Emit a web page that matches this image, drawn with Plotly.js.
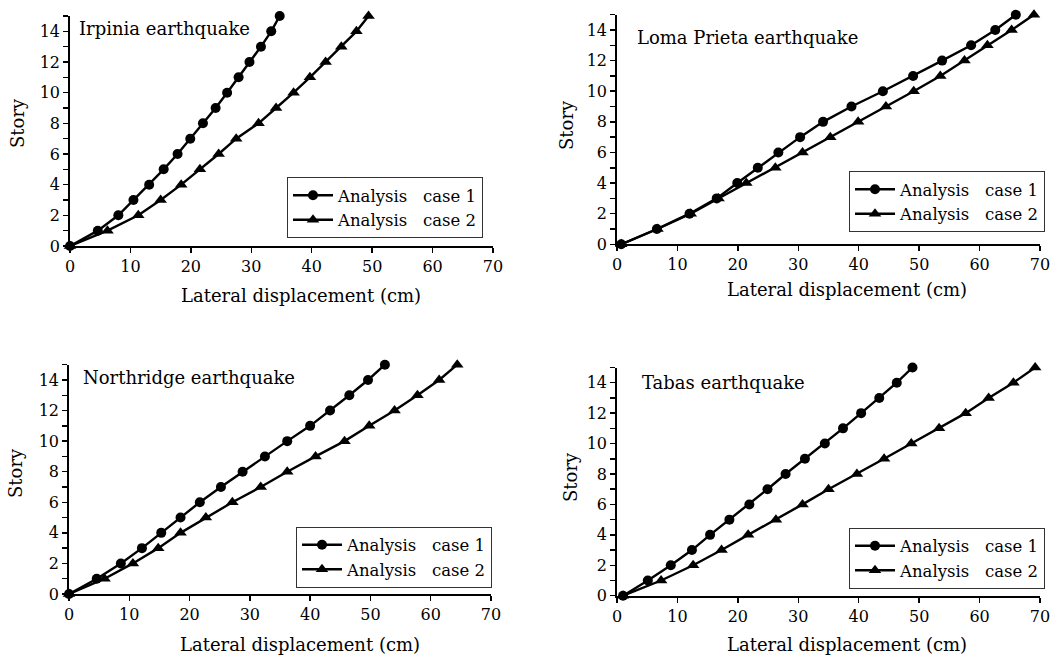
<!DOCTYPE html>
<html>
<head>
<meta charset="utf-8">
<script src="https://cdn.plot.ly/plotly-3.0.1.min.js"></script>
<style>
  html, body { margin: 0; padding: 0; background: #ffffff; }
  #chart { width: 1051px; height: 655px; }
</style>
</head>
<body>
<div id="chart"></div>
<script>
// Story levels (0 = ground)
const stories = [0, 1, 2, 3, 4, 5, 6, 7, 8, 9, 10, 11, 12, 13, 14, 15];

// Lateral displacement per story (cm)
const irpiniaCase1 = [0, 4.6, 8.0, 10.5, 13.1, 15.5, 17.8, 19.9, 22.0, 24.1, 26.0, 27.9, 29.7, 31.6, 33.3, 34.7];
const irpiniaCase2 = [0, 6.2, 11.3, 15.0, 18.4, 21.5, 24.6, 27.5, 31.2, 34.1, 37.0, 39.7, 42.3, 44.9, 47.4, 49.4];

const lomaPrietaCase1 = [0.7, 6.6, 12.0, 16.5, 19.9, 23.3, 26.7, 30.3, 34.1, 38.8, 44.0, 49.0, 53.8, 58.6, 62.6, 66.0];
const lomaPrietaCase2 = [0.7, 6.7, 12.2, 16.8, 21.4, 26.2, 30.7, 35.3, 39.9, 44.5, 49.1, 53.5, 57.5, 61.3, 65.3, 69.0];

const northridgeCase1 = [0, 4.6, 8.6, 12.1, 15.3, 18.5, 21.7, 25.2, 28.8, 32.5, 36.2, 40.0, 43.3, 46.5, 49.6, 52.4];
const northridgeCase2 = [0, 5.9, 10.6, 14.8, 18.5, 22.7, 27.1, 31.8, 36.2, 40.9, 45.7, 49.8, 54.0, 57.8, 61.4, 64.4];

const tabasCase1 = [1.0, 5.1, 8.9, 12.4, 15.4, 18.6, 21.9, 24.9, 27.9, 31.1, 34.4, 37.4, 40.4, 43.4, 46.3, 48.9];
const tabasCase2 = [1.0, 7.3, 12.6, 17.3, 21.7, 26.3, 30.7, 35.0, 39.7, 44.2, 48.7, 53.3, 57.7, 61.5, 65.6, 69.2];

const panelNames = ["Irpinia earthquake", "Loma Prieta earthquake", "Northridge earthquake", "Tabas earthquake"];
const seriesNames = ["Analysis\u00a0\u00a0\u00a0case 1", "Analysis\u00a0\u00a0\u00a0case 2"];
const panelData = [
  [irpiniaCase1, irpiniaCase2],
  [lomaPrietaCase1, lomaPrietaCase2],
  [northridgeCase1, northridgeCase2],
  [tabasCase1, tabasCase2]
];

const W = 1051, H = 655;
const px = v => v / W;          // pixel -> paper x
const py = v => 1 - v / H;      // pixel -> paper y

// Plot-area boxes in pixels: [left, right, bottom, top]
const boxes = [
  [70, 493, 246, 16],
  [617, 1040, 244.3, 14.7],
  [69, 491, 594, 364.7],
  [617, 1040, 595.7, 367.5]
];
// Legend anchor (right, middle) in pixels
const legendPos = [[483, 207.5], [1045, 201.5], [492, 557], [1045, 558]];
// Panel label positions (left, middle)
const labelPos = [[77, 28], [635, 37], [81, 377], [640, 383]];
// Axis title positions
const xTitlePos = [[301, 295], [847, 289], [300, 644], [847, 644]];
const yTitlePos = [[17, 123], [567, 125], [15, 473], [570, 477]];

const FONT = "DejaVu Serif, Liberation Serif, serif";
const traces = [];
const layout = {
  width: W, height: H, autosize: false,
  margin: {l: 0, r: 0, t: 0, b: 0},
  paper_bgcolor: "#ffffff", plot_bgcolor: "#ffffff",
  font: {family: FONT, color: "#000000", size: 15},
  annotations: []
};

const markerSymbols = ["circle", "triangle-up"];
const markerSizes = [10, 11];

for (let i = 0; i < 4; i++) {
  const n = i + 1;
  const xa = n === 1 ? "x" : "x" + n;
  const ya = n === 1 ? "y" : "y" + n;
  const lg = n === 1 ? "legend" : "legend" + n;
  for (let s = 0; s < 2; s++) {
    traces.push({
      type: "scatter", mode: "lines+markers",
      x: panelData[i][s], y: stories,
      name: seriesNames[s],
      xaxis: xa, yaxis: ya, legend: lg,
      cliponaxis: false,
      line: {color: "#000000", width: 2.4},
      marker: {symbol: markerSymbols[s], size: markerSizes[s], color: "#000000"}
    });
  }
  const b = boxes[i];
  const xKey = n === 1 ? "xaxis" : "xaxis" + n;
  const yKey = n === 1 ? "yaxis" : "yaxis" + n;
  layout[xKey] = {
    domain: [px(b[0]), px(b[1])], anchor: ya,
    range: [0, 70], tick0: 0, dtick: 10,
    showgrid: false, zeroline: false,
    showline: true, linecolor: "#000000", linewidth: 1.8,
    ticks: "outside", ticklen: 5, tickwidth: 1.5, tickcolor: "#000000",
    tickfont: {family: FONT, size: 16, color: "#000000"}
  };
  layout[yKey] = {
    domain: [py(b[2]), py(b[3])], anchor: xa,
    range: [0, 15], tick0: 0, dtick: 2,
    showgrid: false, zeroline: false,
    showline: true, linecolor: "#000000", linewidth: 1.8,
    ticks: "outside", ticklen: 5, tickwidth: 1.5, tickcolor: "#000000",
    minor: {ticks: "outside", dtick: 1, ticklen: 5, tickwidth: 1.5, tickcolor: "#000000", showgrid: false},
    tickfont: {family: FONT, size: 16, color: "#000000"}
  };
  layout[lg] = {
    x: px(legendPos[i][0]), y: py(legendPos[i][1]),
    xanchor: "right", yanchor: "middle",
    bgcolor: "#ffffff", bordercolor: "#333333", borderwidth: 1,
    font: {family: FONT, size: 16.5, color: "#000000"},
    tracegroupgap: 0, itemwidth: 40
  };
  layout.annotations.push({
    text: panelNames[i], xref: "paper", yref: "paper",
    x: px(labelPos[i][0]), y: py(labelPos[i][1]),
    xanchor: "left", yanchor: "middle", showarrow: false,
    font: {family: FONT, size: 18, color: "#000000"}
  });
  layout.annotations.push({
    text: "Lateral displacement (cm)", xref: "paper", yref: "paper",
    x: px(xTitlePos[i][0]), y: py(xTitlePos[i][1]),
    xanchor: "center", yanchor: "middle", showarrow: false,
    font: {family: FONT, size: 18, color: "#000000"}
  });
  layout.annotations.push({
    text: "Story", xref: "paper", yref: "paper",
    x: px(yTitlePos[i][0]), y: py(yTitlePos[i][1]),
    xanchor: "center", yanchor: "middle", textangle: -90, showarrow: false,
    font: {family: FONT, size: 18, color: "#000000"}
  });
}

Plotly.newPlot("chart", traces, layout, {staticPlot: true, displayModeBar: false});
</script>
</body>
</html>
